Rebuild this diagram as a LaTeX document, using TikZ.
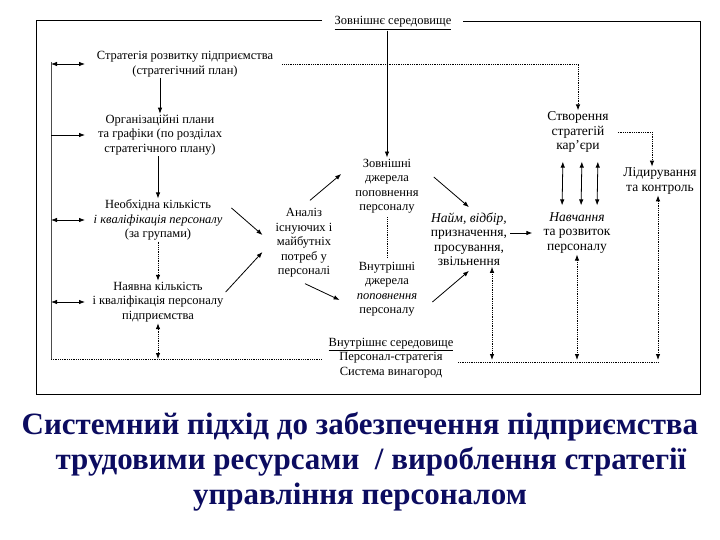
\documentclass[tikz,border=0pt]{standalone}
\usepackage{fontspec}
\setmainfont{Liberation Serif}
\usetikzlibrary{arrows.meta}
\definecolor{titleblue}{RGB}{12,12,96}

\begin{document}
\begin{tikzpicture}[x=1pt,y=-1pt,
	box/.style={align=center,inner sep=1pt,font=\fontsize{12.5}{14.5}\selectfont},
	bigbox/.style={box,font=\fontsize{13.5}{14.5}\selectfont},
	arr/.style={thick,-{Latex[length=6pt,width=4.5pt]}},
	darr/.style={thick,{Latex[length=6pt,width=4.5pt]}-{Latex[length=6pt,width=4.5pt]}},
	dots/.style={densely dotted}]
\useasboundingbox (0,0) rectangle (720,540);
%
	\draw[thick] (322,20) -- (36,20) -- (36,394) -- (700,394) -- (700,21) -- (463,21);
	\node[box] (outer) at (393,23) {\underline{Зовнішнє середовище}};
%
	\node[box] (strat) at (185,64) {Стратегія розвитку підприємства\\(стратегічний план)};
	\node[box] (org) at (160,135) {Організаційні плани\\та графіки (по розділах\\стратегічного плану)};
	\node[box] (need) at (158,220) {Необхідна кількість\\\textit{і кваліфікація персоналу}\\(за групами)};
	\node[box] (have) at (158,302) {Наявна кількість\\і кваліфікація персоналу\\підприємства};
	\node[box] (anl) at (304,243) {Аналіз\\існуючих і\\майбутніх\\потреб у\\персоналі};
	\node[box] (ext) at (387,186) {Зовнішні\\джерела\\поповнення\\персоналу};
	\node[box] (int) at (387,289) {Внутрішні\\джерела\\\textit{поповнення}\\персоналу};
	\node[bigbox] (hire) at (469,239) {\textit{Найм, відбір,}\\призначення,\\просування,\\звільнення};
	\node[bigbox] (train) at (577,233) {\textit{Навчання}\\та розвиток\\персоналу};
	\node[bigbox] (career) at (578,132) {Створення\\стратегій\\кар’єри};
	\node[bigbox] (lead) at (660,181) {Лідирування\\та контроль};
	\node[box] (inner) at (391,358) {\underline{Внутрішнє середовище}\\Персонал-стратегія\\Система винагород};
%
	\coordinate (bus) at (51,62);
	\coordinate (bl) at (51,359);
	\coordinate (tip) at (85,0);
	\draw[gray!60!black] (bus) -- (bl);
	\draw[dots,thick] (bl) -- (322,359);
	\draw[darr] (bus |- strat.west) -- (tip |- strat.west);
	\draw[arr] (bus |- org.west) -- (tip |- org.west);
	\draw[darr] (bus |- need.west) -- (tip |- need.west);
	\draw[darr] (bus |- have.west) -- (tip |- have.west);
%
	\draw[arr] (org |- strat.south) -- (org.north);
	\draw[arr] (need |- org.south) -- (need.north);
	\draw[arr,dots] (need.south) -- (have.north);
	\draw[darr,dots] (have.south) -- (have |- bl);
%
	\draw[arr,dots,shorten <=8pt] (strat.east) -- (career |- strat.east) -- (career.north);
	\draw[arr] (ext |- outer.south) -- (ext.north);
	\draw[dots,thick,shorten <=3pt,shorten >=3pt] (ext.south) -- (int.north);
%
	\draw[arr] ([xshift=8pt,yshift=12pt]need.east) -- ([xshift=-12pt,yshift=8pt]anl.west);
	\draw[arr] ([xshift=1pt,yshift=10pt]have.east) -- ([xshift=-12pt,yshift=-9pt]anl.west);
	\draw[arr] ([xshift=6pt,yshift=7pt]anl.north) -- ([xshift=-13pt,yshift=12pt]ext.west);
	\draw[arr] ([xshift=1pt,yshift=-5pt]anl.south) -- ([xshift=-16pt,yshift=-11pt]int.west);
	\draw[arr] ([xshift=14pt,yshift=9pt]ext.east) -- ([yshift=4pt]hire.north);
	\draw[arr] ([xshift=14pt,yshift=-13pt]int.east) -- ([yshift=-4pt]hire.south);
	\draw[arr,shorten <=2pt,shorten >=10pt] (hire.east |- train.west) -- (train.west);
%
	\foreach \dx in {-15,4,20}
		\draw[darr,shorten <=8pt,shorten >=6pt] ([xshift=\dx pt]career.south) -- ([xshift=\dx pt]train.north);
	\coordinate (lk) at ([xshift=-8pt]lead.north);
	\draw[arr,dots,shorten <=8pt] (career.east) -- (lk |- career.east) -- (lk);
%
	\coordinate (hb) at (492,360);
	\coordinate (tb) at (577,360);
	\coordinate (lb) at (658,360);
	\draw[dots,thick] (458,362) -- (lb |- 0,362);
	\draw[darr,dots] (hb |- hire.south) -- (hb);
	\draw[darr,dots] (tb |- train.south) -- (tb);
	\draw[darr,dots] (lb |- lead.south) -- (lb);
%
	\node[font=\fontsize{31}{35}\selectfont\bfseries,text=titleblue,align=center] (title) at (360,462)
		{Системний підхід до забезпечення підприємства\\\hspace*{22pt}трудовими ресурсами~~/ вироблення стратегії\\управління персоналом};
\end{tikzpicture}
\end{document}
